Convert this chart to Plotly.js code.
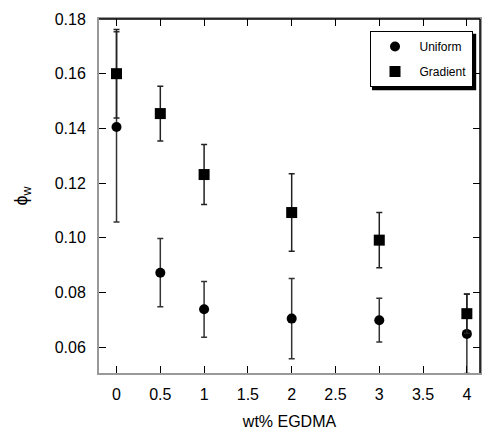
<!DOCTYPE html>
<html>
<head>
<meta charset="utf-8">
<script src="https://cdn.plot.ly/plotly-3.0.1.min.js"></script>
<style>html,body{margin:0;padding:0;background:#fff;}#chart{width:483px;height:437px;}</style>
</head>
<body>
<div id="chart"></div>
<script>
const xUniform = [0, 0.5, 1, 2, 3, 4];
const yUniform = [0.1405, 0.0872, 0.0738, 0.0704, 0.0698, 0.0648];
const errUniform = [0.0348, 0.0125, 0.0102, 0.0147, 0.0080, 0.0145];

const xGradient = [0, 0.5, 1, 2, 3, 4];
const yGradient = [0.1600, 0.1454, 0.1231, 0.1092, 0.0991, 0.0722];
const errGradient = [0.0162, 0.0100, 0.0110, 0.0142, 0.0101, 0.0072];

const xTicks = [0, 0.5, 1, 1.5, 2, 2.5, 3, 3.5, 4];
const xTickText = ['0', '0.5', '1', '1.5', '2', '2.5', '3', '3.5', '4'];
const yTicks = [0.06, 0.08, 0.10, 0.12, 0.14, 0.16, 0.18];
const yTickText = ['0.06', '0.08', '0.10', '0.12', '0.14', '0.16', '0.18'];

const FONT = 'Liberation Sans, Arial, sans-serif';

const traces = [
  {
    x: xUniform, y: yUniform, name: 'Uniform', type: 'scatter', mode: 'markers',
    legendgroup: 'u',
    marker: {symbol: 'circle', size: 10, color: '#000'},
    error_y: {type: 'data', array: errUniform, visible: true, color: '#333', thickness: 1.5, width: 3},
    cliponaxis: true
  },
  {
    x: xGradient, y: yGradient, name: 'Gradient', type: 'scatter', mode: 'markers',
    legendgroup: 'g',
    marker: {symbol: 'square', size: 11, color: '#000'},
    error_y: {type: 'data', array: errGradient, visible: true, color: '#222', thickness: 1.5, width: 3},
    cliponaxis: true
  }
];

const layout = {
  width: 483, height: 437,
  margin: {l: 99, r: 3, t: 19, b: 64},
  paper_bgcolor: '#fff', plot_bgcolor: '#fff',
  font: {family: FONT, size: 16, color: '#000'},
  showlegend: true,
  legend: {
    x: 0.71, xanchor: 'left', y: 0.966, yanchor: 'top',
    bgcolor: '#fff', bordercolor: '#000', borderwidth: 1,
    font: {family: FONT, size: 12, color: '#000'},
    traceorder: 'grouped', tracegroupgap: 6,
    itemwidth: 39
  },
  xaxis: {
    range: [-0.2, 4.15],
    tickmode: 'array', tickvals: xTicks, ticktext: xTickText,
    ticks: 'inside', ticklen: 7, tickwidth: 1, tickcolor: '#000',
    showline: true, linecolor: '#999', linewidth: 2, mirror: 'ticks',
    showgrid: false, zeroline: false,
    ticklabelstandoff: 6,
    tickfont: {family: FONT, size: 16, color: '#000'},
    title: {text: 'wt% EGDMA', font: {family: FONT, size: 16, color: '#000'}, standoff: 14}
  },
  yaxis: {
    range: [0.0505, 0.18],
    tickmode: 'array', tickvals: yTicks, ticktext: yTickText,
    ticks: 'inside', ticklen: 7, tickwidth: 1, tickcolor: '#000',
    showline: true, linecolor: '#999', linewidth: 2, mirror: 'ticks',
    showgrid: false, zeroline: false,
    ticklabelstandoff: 8,
    tickfont: {family: FONT, size: 16, color: '#000'},
    title: {text: 'ϕ<sub>w</sub>', font: {family: FONT, size: 18, color: '#000'}, standoff: 22}
  },
  shapes: [
    {type: 'line', xref: 'paper', yref: 'paper', x0: 0, x1: 1, y0: 1, y1: 1, line: {color: '#000', width: 1.5}, layer: 'above'},
    {type: 'line', xref: 'paper', yref: 'paper', x0: 1, x1: 1, y0: 0, y1: 1, line: {color: '#000', width: 1.5}, layer: 'above'},
    {type: 'rect', xref: 'paper', yref: 'paper', x0: 0.7165, x1: 0.99, y0: 0.799, y1: 0.958,
      fillcolor: '#000', line: {width: 0}, layer: 'above'}
  ]
};

Plotly.newPlot('chart', traces, layout, {displayModeBar: false, staticPlot: true});
</script>
</body>
</html>
